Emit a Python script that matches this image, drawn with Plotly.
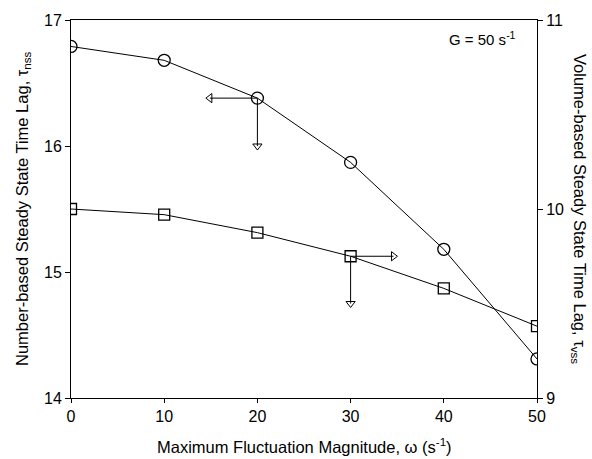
import plotly.graph_objects as go

omega = [0, 10, 20, 30, 40, 50]
tau_nss = [16.79, 16.68, 16.38, 15.87, 15.18, 14.31]
tau_vss = [10.00, 9.97, 9.875, 9.75, 9.58, 9.38]

x_ticks = [0, 10, 20, 30, 40, 50]
y1_ticks = [14, 15, 16, 17]
y2_ticks = [9, 10, 11]

font = "Liberation Sans, Arial, sans-serif"

fig = go.Figure()

fig.add_trace(go.Scatter(
    x=omega, y=tau_nss, mode="lines+markers",
    line=dict(color="black", width=1),
    marker=dict(symbol="circle-open", size=12, color="black", line=dict(width=1.3)),
    yaxis="y", showlegend=False))
fig.add_trace(go.Scatter(
    x=omega, y=tau_vss, mode="lines+markers",
    line=dict(color="black", width=1),
    marker=dict(symbol="square-open", size=11, color="black", line=dict(width=1.3)),
    yaxis="y2", showlegend=False))

# indicator arrows (circle -> left axis, square -> right axis)
def arrow(xs, ys, sym, axis):
    fig.add_trace(go.Scatter(x=xs, y=ys, mode="lines", line=dict(color="black", width=1),
                             yaxis=axis, showlegend=False, hoverinfo="skip"))
    fig.add_trace(go.Scatter(x=[xs[1]], y=[ys[1]], mode="markers",
                             marker=dict(symbol=sym, size=8, color="black", line=dict(width=1)),
                             yaxis=axis, showlegend=False, hoverinfo="skip"))

arrow([omega[2], 14.9], [tau_nss[2], tau_nss[2]], "triangle-left-open", "y")
arrow([omega[2], omega[2]], [tau_nss[2], 16.0], "triangle-down-open", "y")
arrow([omega[3], 34.6], [tau_vss[3], tau_vss[3]], "triangle-right-open", "y2")
arrow([omega[3], omega[3]], [tau_vss[3], 9.5], "triangle-down-open", "y2")

fig.update_layout(
    width=592, height=459,
    margin=dict(l=71, r=55, t=20, b=61),
    paper_bgcolor="white", plot_bgcolor="white",
    font=dict(family=font, size=15, color="black"),
    xaxis=dict(range=[0, 50], tickvals=x_ticks, showline=True, linecolor="black", linewidth=1,
               mirror=True, ticks="outside", ticklen=4, tickcolor="black", showgrid=False,
               zeroline=False, tickfont=dict(size=16), automargin=False),
    yaxis=dict(range=[14, 17], tickvals=y1_ticks, showline=True, linecolor="black", linewidth=1,
               ticks="outside", ticklen=5, tickcolor="black", showgrid=False, zeroline=False,
               tickfont=dict(size=16), automargin=False),
    yaxis2=dict(range=[9, 11], tickvals=y2_ticks, overlaying="y", side="right", showline=True,
                linecolor="black", linewidth=1, ticks="outside", ticklen=5, tickcolor="black",
                showgrid=False, zeroline=False, tickfont=dict(size=16), automargin=False),
    annotations=[
        dict(text="G = 50 s<sup>-1</sup>", xref="paper", yref="paper", x=0.96, y=0.95,
             xanchor="right", yanchor="middle", showarrow=False, font=dict(size=15)),
        dict(text="Maximum Fluctuation Magnitude, ω (s<sup>-1</sup>)", xref="paper", yref="paper",
             x=0.5, y=0, yshift=-48, xanchor="center", yanchor="middle",
             showarrow=False, font=dict(size=16.5)),
        dict(text="Number-based Steady State Time Lag, τ<sub>nss</sub>", xref="paper", yref="paper",
             x=0, xshift=-48, y=0.5, xanchor="center", yanchor="middle", textangle=-90,
             showarrow=False, font=dict(size=16.5)),
        dict(text="Volume-based Steady State Time Lag, τ<sub>vss</sub>", xref="paper", yref="paper",
             x=1.0, xshift=42, y=0.5, xanchor="center", yanchor="middle", textangle=90,
             showarrow=False, font=dict(size=16.5)),
    ],
)

fig.write_html("out.html")
